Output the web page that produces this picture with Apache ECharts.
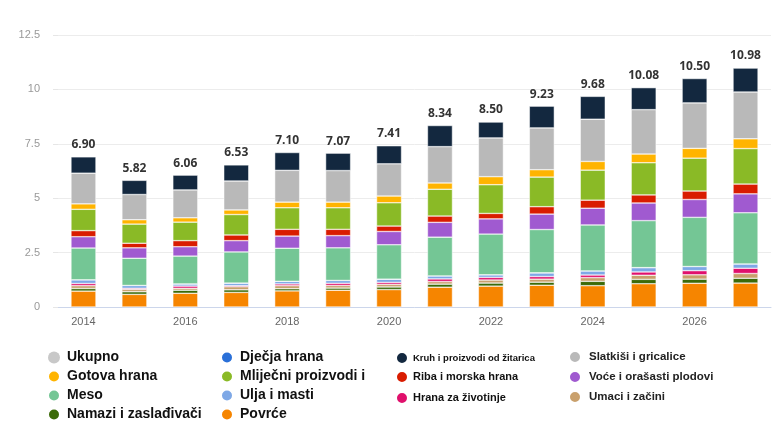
<!DOCTYPE html>
<html>
<head>
<meta charset="utf-8">
<script src="https://cdn.jsdelivr.net/npm/echarts@6/dist/echarts.min.js"></script>
<style>
  html, body { margin: 0; padding: 0; background: #ffffff; }
  #main { width: 779px; height: 421px; }
</style>
</head>
<body>
<div id="main"></div>
<script>
// godine
var years = ['2014', '2015', '2016', '2017', '2018', '2019', '2020',
  '2021', '2022', '2023', '2024', '2025', '2026', '2027'];

// vrijednosti po kategoriji (od dna stupca prema vrhu)
var povrce = [0.73, 0.58, 0.63, 0.67, 0.74, 0.77, 0.80, 0.91, 0.96, 1.00, 0.98, 1.07, 1.09, 1.10];
var namazi = [0.12, 0.12, 0.14, 0.12, 0.10, 0.10, 0.12, 0.14, 0.14, 0.14, 0.20, 0.20, 0.19, 0.22];
var umaci = [0.13, 0.11, 0.09, 0.14, 0.14, 0.12, 0.12, 0.12, 0.14, 0.14, 0.17, 0.19, 0.20, 0.22];
var hranaZivotinje = [0.10, 0.05, 0.10, 0.05, 0.08, 0.10, 0.09, 0.12, 0.12, 0.12, 0.12, 0.15, 0.19, 0.24];
var ulja = [0.17, 0.13, 0.10, 0.12, 0.12, 0.13, 0.15, 0.14, 0.12, 0.17, 0.19, 0.20, 0.19, 0.20];
var djecja = [0, 0, 0, 0, 0, 0, 0, 0, 0, 0, 0, 0, 0, 0];
var meso = [1.46, 1.25, 1.28, 1.43, 1.52, 1.50, 1.58, 1.78, 1.87, 1.99, 2.11, 2.16, 2.26, 2.35];
var voce = [0.52, 0.48, 0.43, 0.52, 0.56, 0.56, 0.61, 0.68, 0.70, 0.71, 0.77, 0.81, 0.82, 0.87];
var riba = [0.28, 0.21, 0.28, 0.26, 0.31, 0.29, 0.25, 0.29, 0.25, 0.34, 0.37, 0.37, 0.39, 0.45];
var mlijecni = [0.98, 0.88, 0.85, 0.94, 0.99, 0.99, 1.07, 1.23, 1.32, 1.36, 1.38, 1.48, 1.51, 1.63];
var gotova = [0.25, 0.20, 0.20, 0.21, 0.26, 0.26, 0.31, 0.29, 0.37, 0.34, 0.40, 0.40, 0.45, 0.45];
var slatkisi = [1.41, 1.16, 1.28, 1.33, 1.46, 1.45, 1.48, 1.67, 1.78, 1.92, 1.94, 2.04, 2.09, 2.15];
var kruh = [0.75, 0.65, 0.68, 0.74, 0.82, 0.80, 0.83, 0.97, 0.73, 1.00, 1.05, 1.01, 1.12, 1.10];

// ukupno (oznake iznad stupaca)
var ukupno = [6.90, 5.82, 6.06, 6.53, 7.10, 7.07, 7.41, 8.34, 8.50, 9.23, 9.68, 10.08, 10.50, 10.98];

var yTicks = [0, 2.5, 5, 7.5, 10, 12.5];

var chart = echarts.init(document.getElementById('main'), null, { renderer: 'canvas' });

function stackSeries(name, data, color) {
  return {
    name: name,
    type: 'bar',
    stack: 'total',
    barWidth: 25,
    data: data,
    itemStyle: { color: color, borderColor: '#ffffff', borderWidth: 0.5 },
    emphasis: { disabled: true }
  };
}

// legenda je u 4 stupca, kao slika ispod grafa
function legendCol(left, top, size, gap, text, names) {
  return {
    left: left, top: top, height: 90, padding: 0,
    orient: 'vertical', icon: 'circle',
    itemWidth: size, itemHeight: size, itemGap: gap, selectedMode: false,
    textStyle: text,
    data: names
  };
}

var bigText = { fontFamily: 'Liberation Sans', fontWeight: 'bold', fontSize: 14, color: '#111', lineHeight: 13, padding: [2, 0, 0, 2] };
var smallText = { fontFamily: 'Liberation Sans', fontWeight: 'bold', fontSize: 11, color: '#111', lineHeight: 12 };

var option = {
  backgroundColor: '#ffffff',
  animation: false,
  grid: { left: 58, right: 8, top: 35, bottom: 114 },
  legend: [
    legendCol(47, 350, 12, 4, bigText, ['Ukupno', 'Gotova hrana', 'Meso', 'Namazi i zaslađivači']),
    legendCol(220, 350, 12, 4, bigText, ['Dječja hrana', 'Mliječni proizvodi i', 'Ulja i masti', 'Povrće']),
    legendCol(395, 351, 12, 7, { fontFamily: 'Liberation Sans', fontWeight: 'bold', fontSize: 9.5, color: '#111' },
      ['Kruh i proizvodi od žitarica']),
    legendCol(395, 370, 12, 7, smallText, ['Riba i morska hrana', 'Hrana za životinje']),
    legendCol(568, 350, 12, 6, { fontFamily: 'Liberation Sans', fontWeight: 'bold', fontSize: 11.5, color: '#222', lineHeight: 12, padding: [0, 0, 0, 3] },
      ['Slatkiši i gricalice', 'Voće i orašasti plodovi', 'Umaci i začini'])
  ],
  xAxis: {
    type: 'category',
    data: years,
    axisLine: { lineStyle: { color: '#ccd6eb' } },
    axisTick: { alignWithLabel: true, interval: 1, length: 6, lineStyle: { color: '#ccd6eb' } },
    axisLabel: { interval: 1, color: '#666', fontSize: 11, margin: 9 }
  },
  yAxis: {
    type: 'value',
    min: yTicks[0],
    max: yTicks[yTicks.length - 1],
    interval: 2.5,
    axisLine: { show: false },
    axisTick: { show: true, length: 5, lineStyle: { color: '#e6e6e6' } },
    axisLabel: { color: '#999', fontSize: 11, margin: 18 },
    splitLine: { lineStyle: { color: '#ececec' } }
  },
  series: [
    stackSeries('Povrće', povrce, '#f68500'),
    stackSeries('Namazi i zaslađivači', namazi, '#3b6a08'),
    stackSeries('Umaci i začini', umaci, '#c9a06c'),
    stackSeries('Hrana za životinje', hranaZivotinje, '#e0106c'),
    stackSeries('Ulja i masti', ulja, '#7ea8e6'),
    stackSeries('Dječja hrana', djecja, '#2a70d8'),
    stackSeries('Meso', meso, '#74c695'),
    stackSeries('Voće i orašasti plodovi', voce, '#a05ad0'),
    stackSeries('Riba i morska hrana', riba, '#d91c00'),
    stackSeries('Mliječni proizvodi i', mlijecni, '#8aba26'),
    stackSeries('Gotova hrana', gotova, '#ffb400'),
    stackSeries('Slatkiši i gricalice', slatkisi, '#b9b9b9'),
    stackSeries('Kruh i proizvodi od žitarica', kruh, '#13283f'),
    {
      // ukupno: nulti stupac na vrhu samo za oznaku
      name: 'Ukupno',
      type: 'bar',
      stack: 'total',
      barWidth: 25,
      data: ukupno.map(function () { return 0; }),
      itemStyle: { color: '#c8c8c8', borderWidth: 0 },
      label: {
        show: true,
        position: 'top',
        distance: 6,
        color: '#333',
        fontSize: 12,
        fontWeight: 'bold',
        fontFamily: 'Open Sans',
        formatter: function (p) { return ukupno[p.dataIndex].toFixed(2); }
      },
      emphasis: { disabled: true }
    }
  ]
};

chart.setOption(option);
</script>
</body>
</html>
